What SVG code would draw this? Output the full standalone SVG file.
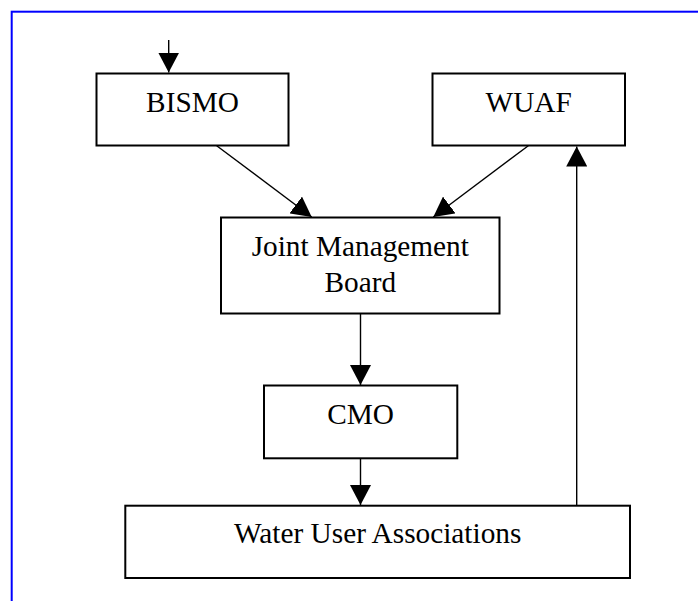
<svg xmlns="http://www.w3.org/2000/svg" width="698" height="601" viewBox="0 0 698 601">
<style>
.box{fill:#fff;stroke:#000;stroke-width:2}
.lbl{font-family:"Liberation Serif","Times New Roman",serif;font-size:29.3px;fill:#000;text-anchor:middle}
.con{stroke:#000;stroke-width:1.4;fill:none}
</style>
<defs>
<marker id="ah" markerUnits="userSpaceOnUse" viewBox="0 0 20 21" refX="20" refY="10.5" markerWidth="20" markerHeight="21" orient="auto">
<path d="M0,0 L20,10.5 L0,21 z" fill="#000"/>
</marker>
</defs>
<rect x="0" y="0" width="698" height="601" fill="#fff"/>
<rect x="11.7" y="11.7" width="720" height="620" fill="none" stroke="#0000ff" stroke-width="2"/>
<g id="bismo"><rect class="box" x="96.5" y="73.5" width="192" height="72"/><text class="lbl" x="192.5" y="111.7">BISMO</text></g>
<g id="wuaf"><rect class="box" x="432.5" y="73.5" width="192.5" height="72"/><text class="lbl" x="528.7" y="111.7">WUAF</text></g>
<g id="jmb"><rect class="box" x="221" y="217.5" width="278.5" height="96"/><text class="lbl" x="360.3" y="256">Joint Management</text><text class="lbl" x="360.3" y="291.7">Board</text></g>
<g id="cmo"><rect class="box" x="264" y="385.5" width="193.3" height="72.8"/><text class="lbl" x="360.5" y="424">CMO</text></g>
<g id="wua"><rect class="box" x="125.3" y="505.7" width="504.7" height="72.3"/><text class="lbl" x="377.7" y="543.3">Water User Associations</text></g>
<g id="connectors">
<line class="con" x1="168.7" y1="40" x2="168.7" y2="72.5" marker-end="url(#ah)"/>
<line class="con" x1="216.7" y1="145.7" x2="311.7" y2="217" marker-end="url(#ah)"/>
<line class="con" x1="528.3" y1="145.7" x2="433.3" y2="217" marker-end="url(#ah)"/>
<line class="con" x1="360.5" y1="313.5" x2="360.5" y2="385" marker-end="url(#ah)"/>
<line class="con" x1="360.5" y1="458.3" x2="360.5" y2="505" marker-end="url(#ah)"/>
<line class="con" x1="576.7" y1="505.7" x2="576.7" y2="146.5" marker-end="url(#ah)"/>
</g>
</svg>
